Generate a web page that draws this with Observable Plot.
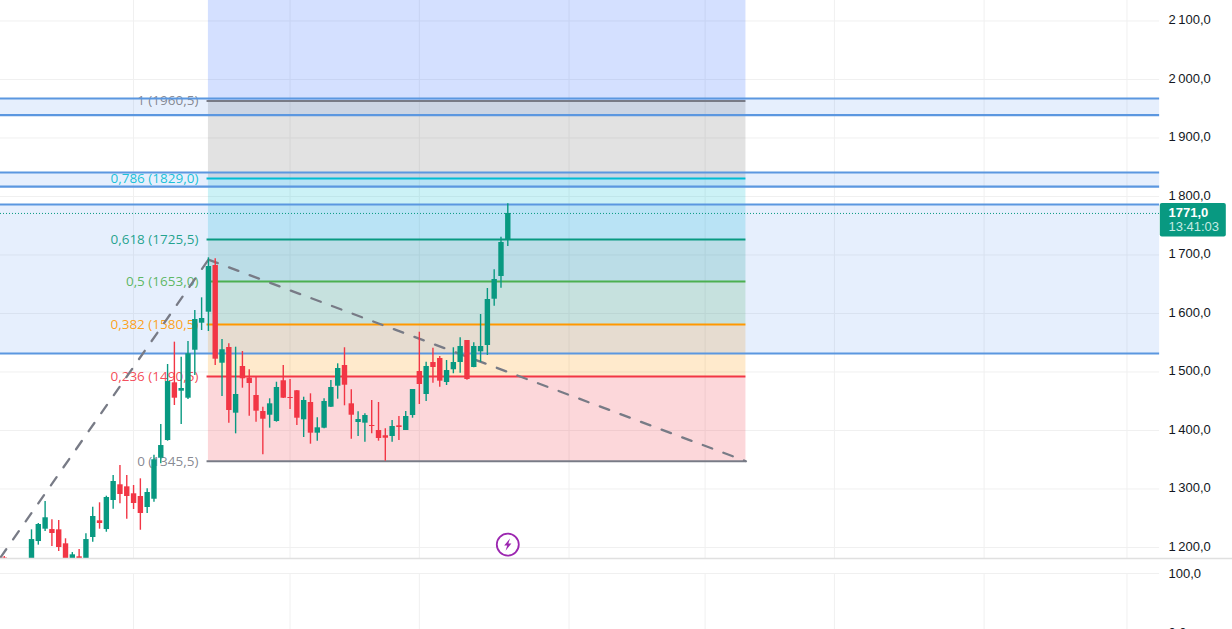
<!DOCTYPE html>
<html><head><meta charset="utf-8">
<style>
html,body{margin:0;padding:0;background:#fff;width:1232px;height:629px;overflow:hidden}
svg{display:block}
</style>
<script src="https://cdn.jsdelivr.net/npm/d3@7"></script>
<script src="https://cdn.jsdelivr.net/npm/@observablehq/plot@0.6"></script>
</head><body><div id="c"></div>
<script>
const candleIndex = [-4].concat(d3.range(0,71));
const open = [1182,1152,1210.2,1231.3,1230.7,1230.2,1206.3,1169.2,1184.1,1169.2,1217.1,1245.6,1230.7,1280.3,1307.2,1303.7,1291.8,1287.2,1268.4,1282.5,1352.6,1382.9,1481.5,1467.2,1455.2,1537.2,1583.4,1602.2,1682,1515,1541.9,1429.6,1509.4,1489.4,1459.8,1432.5,1426.1,1415.4,1485,1456.4,1467.9,1418.3,1447.9,1395.4,1403.9,1439.8,1475.7,1511.1,1445.6,1413.7,1412.5,1408.5,1400,1391,1389.7,1408,1400,1425.6,1500.8,1461.5,1516.2,1523.1,1482,1503.8,1516.2,1553.8,1507.7,1534.5,1545.3,1624.4,1663.2,1726.5];
const high = [1184.6,1230.2,1241,1278.6,1247.3,1246.1,1214.9,1191.4,1196.6,1223.4,1268.9,1276.4,1287.7,1323.1,1340.2,1323.1,1306,1317.4,1300.3,1357.8,1410.2,1512.8,1551,1525.3,1552.1,1605.1,1626.8,1695.2,1693.5,1555.5,1548.2,1542.4,1535,1503.8,1491.1,1439.8,1454.2,1482.5,1511.1,1487.2,1468.4,1456.9,1462.7,1421.7,1454.2,1485.5,1514,1541.4,1469.6,1432,1428.5,1451.3,1447.9,1403,1417.1,1423.9,1432.5,1470.1,1568,1516.7,1540.7,1526.5,1519.6,1541.4,1558.4,1553.8,1549.9,1598.3,1642.7,1674.7,1730.4,1787.5];
const low = [1169,1143.6,1204,1227.3,1201.7,1193.2,1152,1160.7,1160.7,1157.2,1209.1,1231.3,1226.1,1265.5,1274.7,1248.3,1265,1229.5,1258.1,1277.4,1343,1381.7,1442.7,1410.2,1453,1494,1570.9,1569.2,1511.1,1458.1,1412.5,1394.3,1472.3,1424.4,1414.2,1358.5,1404,1414.2,1454.7,1435.9,1408.5,1388,1376.6,1381.7,1402.9,1439.3,1453.5,1442.2,1385.1,1389.7,1380,1394.3,1381.7,1347.5,1380,1382.9,1400,1421,1444.4,1449.6,1480.8,1474,1476.9,1497,1498,1486,1507.2,1516.7,1528.2,1612.5,1643.2,1714.5];
const close = [1174,1213.6,1239.3,1250.8,1223.9,1200,1160.7,1187.5,1174.4,1213.6,1253,1241,1285.5,1312.8,1290.6,1287.2,1275.2,1258.1,1294,1350,1374.3,1483.7,1455.2,1471.8,1531.1,1589.7,1591.4,1680.3,1521.9,1538,1434.2,1461.5,1488.4,1480.3,1433,1419.3,1445.6,1473.5,1455.2,1454.7,1421,1451.3,1395.4,1404.6,1449.6,1473.5,1506,1477.4,1426.1,1418.8,1425.6,1406.8,1386.3,1386.8,1406.8,1405.1,1423.9,1470.1,1478.6,1509.4,1507.7,1484.3,1502.5,1516.2,1543.6,1487.2,1543.6,1543.6,1623.9,1658.1,1721.4,1771];

const levelPrice = [1963,1830.8,1726.5,1654.7,1581.2,1492.3,1347.5];
const levelLabel = ["1 (1960,5)","0,786 (1829,0)","0,618 (1725,5)","0,5 (1653,0)","0,382 (1580,5)","0,236 (1490,5)","0 (1345,5)"];
const levelColor = ["#787B86","#00BCD4","#089981","#4CAF50","#FF9800","#F23645","#787B86"];
const bandTopPrice = [2135,1963,1830.8,1726.5,1654.7,1581.2,1492.3];
const bandBottomPrice = [1963,1830.8,1726.5,1654.7,1581.2,1492.3,1347.5];
const bandColor = ["#2962FF","#6e6e6e","#00BCD4","#089981","#4CAF50","#FF9800","#F23645"];

const zoneTop = [1967.5,1841,1786.3];
const zoneBottom = [1939,1817,1531.6];

const trendIndex = [-4.556,26,105];
const trendPrice = [1183,1692,1347.5];

const tickValues = [2100,2000,1900,1800,1700,1600,1500,1400,1300,1200];
const tickLabels = ["2\u2009100,0","2\u2009000,0","1\u2009900,0","1\u2009800,0","1\u2009700,0","1\u2009600,0","1\u2009500,0","1\u2009400,0","1\u2009300,0","1\u2009200,0"];
const gridIndex = [15,38,57,79,99,118,140,161];

const lastPrice = 1771;
const lastText = "1771,0";
const timerText = "13:41:03";

const FIB_START = 26, FIB_END = 105, PANE_END = 165.8, AXIS_X = 167.1, TAG_END = 175.6;
const xDomain = [-4.556,176.51];
const GREEN = "#089981", RED = "#F23645", GRID = "#f0f0f0", ZONE = "#5b97e0";
const FONT = "Liberation Sans";

const candles = candleIndex.map((i,k)=>({i,open:open[k],high:high[k],low:low[k],close:close[k]}));
const bands = bandColor.map((c,k)=>({c,t:bandTopPrice[k],b:bandBottomPrice[k]}));
const levels = levelPrice.map((p,k)=>({p,t:levelLabel[k],c:levelColor[k]}));
const zones = zoneTop.map((t,k)=>({t,b:zoneBottom[k]}));
const trendLeft = [0,1].map(k=>({i:trendIndex[k],p:trendPrice[k]}));
const trendRight = [1,2].map(k=>({i:trendIndex[k],p:trendPrice[k]}));
const ticks = tickValues.map((v,k)=>({v,t:tickLabels[k]}));
const bolt = {draw(ctx,size){const s=Math.sqrt(size/Math.PI)/6;
  [[2.2,-6.2],[-3.6,0.9],[-0.6,0.9],[-2.2,6.2],[3.6,-1],[0.6,-1]].forEach(([a,b],n)=>n?ctx.lineTo(a*s,b*s):ctx.moveTo(a*s,b*s));ctx.closePath();}};

const upper = Plot.plot({
  width:1232,height:559,margin:0,marginBottom:1,
  style:{background:"transparent",overflow:"visible"},
  x:{domain:xDomain,range:[0,1232],axis:null},
  y:{domain:[1181.2,2135],range:[558,0],axis:null},
  marks:[
    Plot.ruleY(tickValues,{x1:xDomain[0],x2:PANE_END,stroke:GRID,strokeWidth:1}),
    Plot.ruleX(gridIndex,{stroke:GRID,strokeWidth:1}),
    Plot.rect(bands,{x1:FIB_START,x2:FIB_END,y1:"b",y2:"t",fill:"c",fillOpacity:.2}),
    Plot.rect(zones,{x1:xDomain[0],x2:PANE_END,y1:"b",y2:"t",fill:"#3d85ee",fillOpacity:.13}),
    Plot.ruleY(levels,{y:"p",x1:FIB_START-.2,x2:FIB_END,stroke:"c",strokeWidth:2}),
    Plot.text(levels,{x:FIB_START,y:"p",dx:-10,text:"t",fill:"c",fillOpacity:.9,textAnchor:"end",fontFamily:"Open Sans",fontSize:13.5}),
    Plot.ruleY(zoneTop.concat(zoneBottom),{x1:xDomain[0],x2:PANE_END,stroke:ZONE,strokeWidth:2.2}),
    Plot.line(trendLeft,{x:"i",y:"p",stroke:"#787B86",strokeWidth:2.3,strokeDasharray:"10 12",clip:true}),
    Plot.line(trendRight,{x:"i",y:"p",stroke:"#787B86",strokeWidth:2.3,strokeDasharray:"10 12",clip:true}),
    Plot.ruleY([lastPrice],{x1:xDomain[0],x2:PANE_END,stroke:GREEN,strokeWidth:1,strokeDasharray:"1 2"}),
    Plot.ruleX(candles,{x:"i",y1:"low",y2:"high",stroke:d=>d.close>=d.open?GREEN:RED,strokeWidth:1.4,clip:true}),
    Plot.ruleX(candles,{x:"i",y1:"open",y2:"close",stroke:d=>d.close>=d.open?GREEN:RED,strokeWidth:5.4,clip:true}),
    Plot.dot([{i:70,p:1205}],{x:"i",y:"p",r:11,fill:"white",stroke:"#9C27B0",strokeWidth:1.8}),
    Plot.dot([{i:70,p:1205}],{x:"i",y:"p",r:6,symbol:bolt,fill:"#9C27B0",stroke:"none"}),
    Plot.ruleY([1181.2],{stroke:"#e0e0e0",strokeWidth:1.5}),
    Plot.text(ticks,{x:AXIS_X,y:"v",dy:-1,text:"t",textAnchor:"start",fill:"#131722",fontFamily:FONT,fontSize:13}),
    Plot.rect([{a:PANE_END+.1,b:TAG_END,t:1788,m:1730.8}],{x1:"a",x2:"b",y1:"m",y2:"t",fill:GREEN,r:2}),
    Plot.text([lastText],{x:AXIS_X,y:lastPrice,dy:-1,text:d=>d,textAnchor:"start",fill:"white",fontWeight:"bold",fontFamily:FONT,fontSize:13}),
    Plot.text([timerText],{x:AXIS_X,y:1747.5,text:d=>d,textAnchor:"start",fill:"#c6ebe3",fontFamily:FONT,fontSize:13})
  ]
});
const lower = Plot.plot({
  width:1232,height:70,margin:0,
  style:{background:"transparent",overflow:"visible"},
  x:{domain:xDomain,range:[0,1232],axis:null},
  y:{domain:[0,100],range:[73,14],axis:null},
  marks:[
    Plot.ruleY([100],{x1:xDomain[0],x2:PANE_END,stroke:GRID}),
    Plot.ruleX(gridIndex,{stroke:GRID,y1:100,y2:0}),
    Plot.text([{v:100,t:"100,0"},{v:0,t:"0,0"}],{x:AXIS_X,y:"v",text:"t",textAnchor:"start",fill:"#131722",fontFamily:FONT,fontSize:13})
  ]
});
const c=document.getElementById("c");c.appendChild(upper);c.appendChild(lower);
</script></body></html>
